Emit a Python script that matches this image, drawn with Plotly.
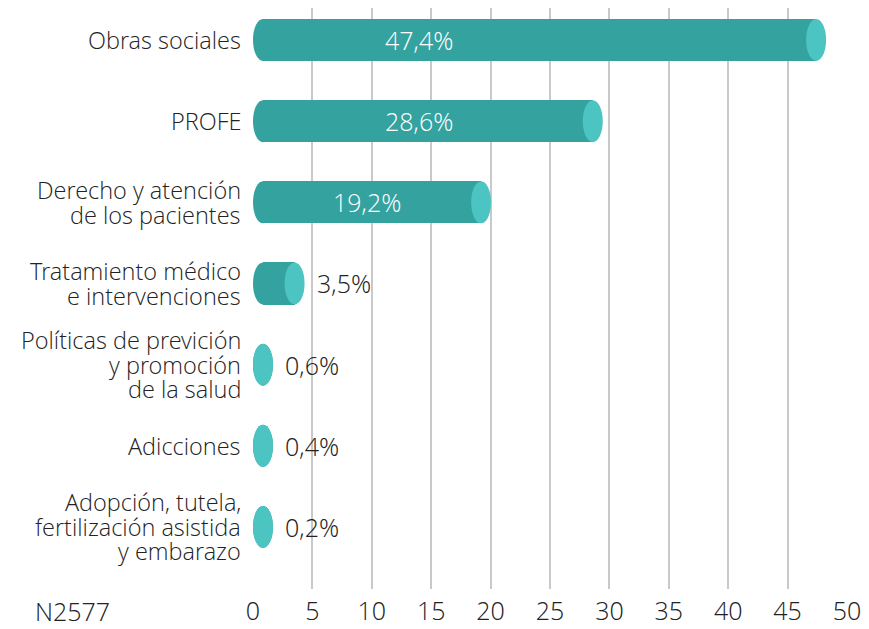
import plotly.graph_objects as go

categories = [
    ["Obras sociales"],
    ["PROFE"],
    ["Derecho y atención", "de los pacientes"],
    ["Tratamiento médico", "e intervenciones"],
    ["Políticas de previción", "y promoción", "de la salud"],
    ["Adicciones"],
    ["Adopción, tutela,", "fertilización asistida", "y embarazo"],
]
values = [47.4, 28.6, 19.2, 3.5, 0.6, 0.4, 0.2]
value_labels = ["47,4%", "28,6%", "19,2%", "3,5%", "0,6%", "0,4%", "0,2%"]
tick_vals = [0, 5, 10, 15, 20, 25, 30, 35, 40, 45, 50]
note = "N2577"

DARK = "#34A29F"
LIGHT = "#4CC4C2"
FONT = "Open Sans Light, Open Sans, sans-serif"
TXT = "#222222"
W = 300

e = 0.84      # half ellipse width (data units)
h = 0.259     # half bar thickness (y units)
ypos = list(range(len(categories)))
ends = [max(v, e) for v in values]

fig = go.Figure()
fig.add_trace(go.Bar(
    y=ypos, x=[c - e for c in ends], base=[e] * len(values),
    orientation="h", width=2 * h,
    marker=dict(color=DARK, line=dict(width=0)),
    hoverinfo="skip", showlegend=False,
))

shapes = []
annotations = []
for i, (v, c, lab) in enumerate(zip(values, ends, value_labels)):
    shapes.append(dict(type="circle", xref="x", yref="y", x0=0, x1=2 * e,
                       y0=i - h, y1=i + h, fillcolor=DARK, line=dict(width=0), layer="above"))
    shapes.append(dict(type="circle", xref="x", yref="y", x0=c - e, x1=c + e,
                       y0=i - h, y1=i + h, fillcolor=LIGHT, line=dict(width=0), layer="above"))
    if v > 10:
        annotations.append(dict(x=min(v / 2, 14.0), y=i, xref="x", yref="y", text=lab,
                                showarrow=False, xanchor="center",
                                font=dict(family=FONT, size=25, color="white", weight=W)))
    else:
        annotations.append(dict(x=c + e, y=i, xref="x", yref="y", text=lab,
                                showarrow=False, xanchor="left", xshift=10,
                                font=dict(family=FONT, size=25, color=TXT, weight=W)))

# category labels, one annotation per line for tight line spacing
LINE = 24.5
for i, lines in enumerate(categories):
    n = len(lines)
    for k, line in enumerate(lines):
        annotations.append(dict(x=0, y=i, xref="paper", yref="y", text=line,
                                showarrow=False, xanchor="right", yanchor="middle",
                                xshift=-10, yshift=-(k - (n - 1) / 2) * LINE,
                                font=dict(family=FONT, size=23.5, color=TXT, weight=W)))

annotations.append(dict(x=-0.3047, y=-0.038, xref="paper", yref="paper", text=note,
                        showarrow=False, xanchor="center", yanchor="middle",
                        font=dict(family=FONT, size=25, color=TXT, weight=W)))

# page body has an 8px margin; size the figure so the plot lands where the reference has it
fig.update_layout(
    width=861, height=621,
    margin=dict(l=245, r=22, t=0, b=40),
    plot_bgcolor="white", paper_bgcolor="white",
    bargap=0,
    shapes=shapes,
    annotations=annotations,
    font=dict(family=FONT, size=22, color=TXT, weight=W),
    xaxis=dict(range=[0, 50], tickvals=tick_vals, showgrid=True, gridcolor="#c9c9c9",
               gridwidth=2, zeroline=False, showline=False, ticks="", automargin=False,
               ticklabelstandoff=5,
               tickfont=dict(family=FONT, size=25, color=TXT, weight=W)),
    yaxis=dict(range=[6.764, -0.394], tickvals=ypos, showticklabels=False, showgrid=False,
               zeroline=False, showline=False, ticks="", automargin=False),
)

fig.write_html("out.html")
